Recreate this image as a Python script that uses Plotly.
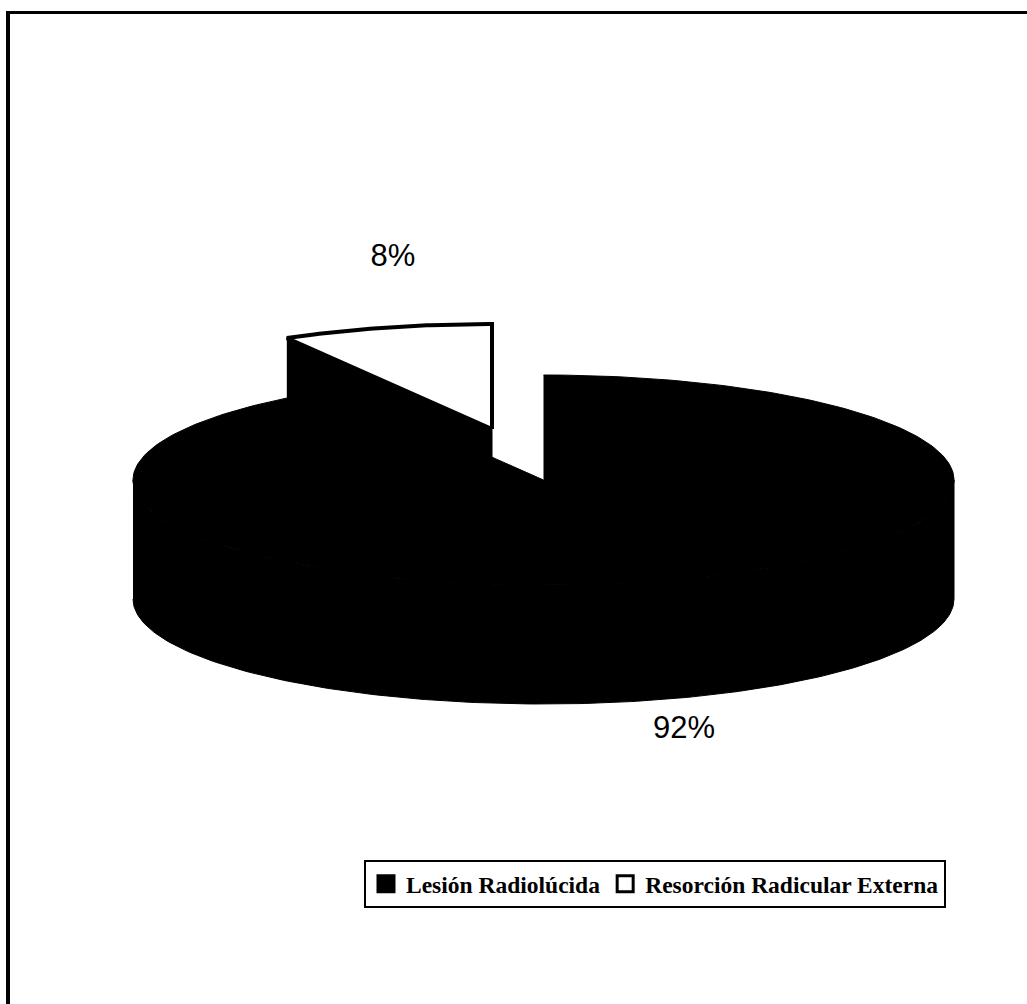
import numpy as np
import plotly.graph_objects as go

# Data
categories = ["Lesión Radiolúcida", "Resorción Radicular Externa"]
values = [91.67, 8.33]
labels = ["92%", "8%"]
label_x = [684, 393]
label_y = [730, 258]
swatch_colors = ["#000000", "#ffffff"]

# Scene geometry of the tilted disc (axis units = canvas units)
CX, CY, RX, RY, DEPTH = 543.5, 480, 410.5, 105, 119
OFF_X, OFF_Y = -51.5, -51

share = values[1] / sum(values)
split = 2 * np.pi * share          # slice spans from 12 o'clock counter-clockwise


def rim(t, dx=0, dy=0):
    return CX + dx - RX * np.sin(t), CY + dy - RY * np.cos(t)


fig = go.Figure()


def poly(x, y, fill, line=None, lw=1):
    fig.add_trace(go.Scatter(
        x=list(x), y=list(y), mode="lines", fill="toself", fillcolor=fill,
        line=dict(color=line or fill, width=lw), showlegend=False, hoverinfo="skip"))


# Cut face of the pulled-out slice
t0 = split
lx, ly = rim(t0, OFF_X, OFF_Y)
ax, ay = CX + OFF_X, CY + OFF_Y
poly([lx, ax, ax, lx], [ly, ay, ay + DEPTH, ly + DEPTH], "#000000")

# Main slice: top face plus extruded wall
t_main = np.linspace(split, 2 * np.pi, 300)
mx, my = rim(t_main)
poly(np.r_[CX, mx], np.r_[CY, my], "#000000")
t_wall = np.linspace(np.pi / 2, 3 * np.pi / 2, 200)
wx, wy = rim(t_wall)
poly(np.r_[wx, wx[::-1]], np.r_[wy, wy[::-1] + DEPTH], "#000000")

# Pulled-out slice: top face
t_s = np.linspace(0, split, 60)
sx, sy = rim(t_s, OFF_X, OFF_Y)
poly(np.r_[ax, sx, ax], np.r_[ay, sy, ay], "#ffffff", "#000000", 4)

# Percent labels
fig.add_trace(go.Scatter(
    x=label_x, y=label_y, mode="text", text=labels, textposition="middle center",
    textfont=dict(family="Liberation Sans", size=31, color="#000000"),
    showlegend=False, hoverinfo="skip"))

# Legend entries
for name, col in zip(categories, swatch_colors):
    fig.add_trace(go.Scatter(
        x=[None], y=[None], mode="markers", name=name,
        marker=dict(symbol="square", size=16, color=col, line=dict(color="#000000", width=3))))

# Frame: only the top and left rules are present
fig.add_shape(type="line", x0=8, x1=8, y0=11, y1=1004, line=dict(color="#000000", width=4))
fig.add_shape(type="line", x0=6, x1=1027, y0=12.5, y1=12.5, line=dict(color="#000000", width=3))

fig.update_layout(
    width=1027, height=1004, margin=dict(l=0, r=0, t=0, b=0),
    paper_bgcolor="#ffffff", plot_bgcolor="#ffffff",
    xaxis=dict(range=[0, 1027], visible=False, fixedrange=True),
    yaxis=dict(range=[1004, 0], visible=False, fixedrange=True),
    showlegend=True,
    legend=dict(
        orientation="h", x=364 / 1027, y=1 - 860 / 1004, xanchor="left", yanchor="top",
        bordercolor="#000000", borderwidth=2, bgcolor="#ffffff",
        font=dict(family="Liberation Serif", size=23.5, color="#000000", weight="bold"),
        itemwidth=30, tracegroupgap=0),
)

fig.write_html("out.html", config={"displayModeBar": False},
               post_script="document.body.style.margin='0';")
